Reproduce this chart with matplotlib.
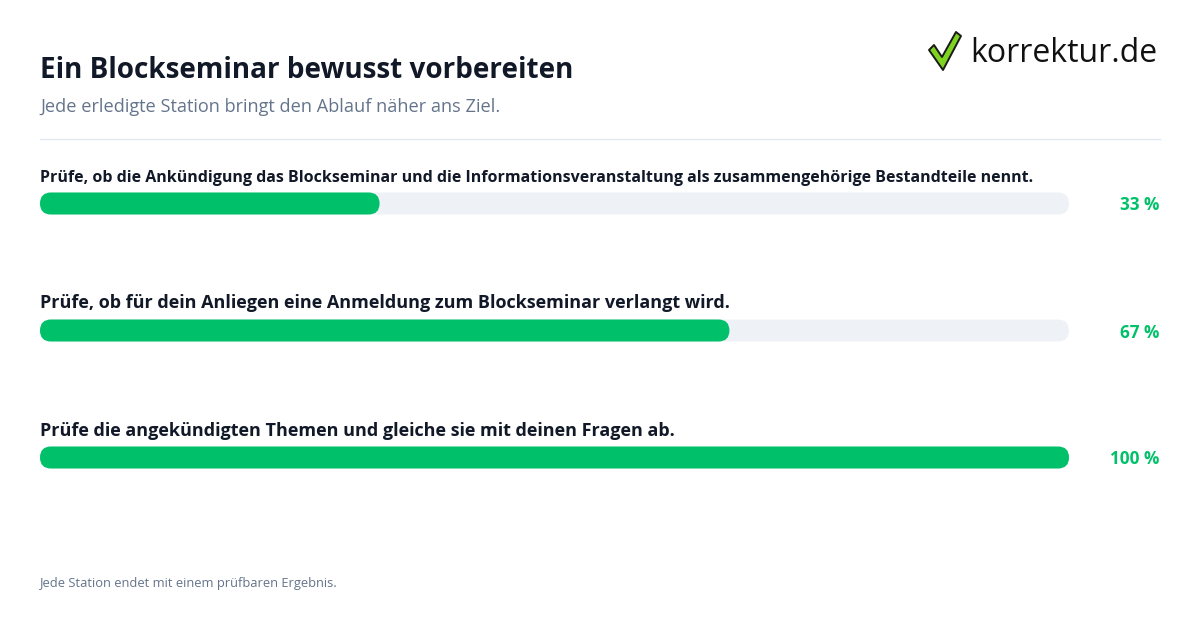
import matplotlib
matplotlib.use("Agg")
import matplotlib.pyplot as plt
import matplotlib.transforms as mtransforms
from matplotlib.patches import FancyBboxPatch, Polygon

plt.rcParams['font.family'] = ['Open Sans', 'Noto Sans', 'DejaVu Sans']

TITLE = "Ein Blockseminar bewusst vorbereiten"
SUBTITLE = "Jede erledigte Station bringt den Ablauf näher ans Ziel."
FOOTER = "Jede Station endet mit einem prüfbaren Ergebnis."
LOGO = "korrektur.de"

steps = [
    "Prüfe, ob die Ankündigung das Blockseminar und die Informationsveranstaltung als zusammengehörige Bestandteile nennt.",
    "Prüfe, ob für dein Anliegen eine Anmeldung zum Blockseminar verlangt wird.",
    "Prüfe die angekündigten Themen und gleiche sie mit deinen Fragen ab.",
]
progress = [33, 67, 100]

GREEN = "#00c16a"
TRACK = "#eef2f7"
DARK = "#111827"
SLATE = "#64748b"

W, H = 1200, 630
fig = plt.figure(figsize=(W / 100, H / 100), dpi=100)
fig.patch.set_facecolor("white")


def fx(px):
    return px / W


def fy(px):
    return 1 - px / H


# header
fig.text(fx(40), fy(70), TITLE, fontsize=20.1, fontweight="bold", color=DARK, va="center")
fig.text(fx(40), fy(107), SUBTITLE, fontsize=13.1, color=SLATE, va="center")
fig.add_artist(plt.Line2D([fx(40), fx(1160)], [fy(138.5), fy(138.5)], color="#e2e8f0", lw=1))
fig.text(fx(40), fy(583), FOOTER, fontsize=9.3, color=SLATE, va="center")

# logo
check = [(929, 50), (934, 45), (942, 57), (956, 32), (961, 36), (943, 70)]
fig.add_artist(Polygon([(fx(x), fy(y)) for x, y in check], closed=True,
                       transform=fig.transFigure, fc="#7ed321", ec="#1a1a1a", lw=1.4,
                       joinstyle="round"))
fig.text(fx(1157), fy(54), LOGO, fontsize=23, color="#111111", ha="right", va="center")

# bars: axes spans the track, x in percent, one row unit per step
left_px, right_px = 40, 1069
top_px, row_px = 140, 127
n = len(steps)
ax = fig.add_axes([fx(left_px), fy(top_px + row_px * n), (right_px - left_px) / W, row_px * n / H])
ax.set_xlim(0, 100)
ax.set_ylim(n, 0)
ax.axis("off")

px_per_x = (right_px - left_px) / 100
aspect = px_per_x / row_px
bar_h = 22 / row_px
rad = 11 / px_per_x
right_tr = mtransforms.blended_transform_factory(fig.transFigure, ax.transData)
label_sizes = [11.5, 13.0, 13.0]  # long first label is set smaller to fit
label_gap = [25, 27, 27]

for i, (label, val) in enumerate(zip(steps, progress)):
    yc = i + 0.5
    ax.add_patch(FancyBboxPatch((0, yc - bar_h / 2), 100, bar_h,
                                boxstyle=f"round,pad=0,rounding_size={rad}",
                                mutation_aspect=aspect, fc=TRACK, ec="none"))
    ax.add_patch(FancyBboxPatch((0, yc - bar_h / 2), val, bar_h,
                                boxstyle=f"round,pad=0,rounding_size={rad}",
                                mutation_aspect=aspect, fc=GREEN, ec="none"))
    ax.text(0, yc - label_gap[i] / row_px, label, fontsize=label_sizes[i], fontweight="bold",
            color=DARK, va="center", ha="left")
    ax.text(fx(1159), yc + 2 / row_px, f"{val} %", transform=right_tr, fontsize=12.3,
            fontweight="bold", color=GREEN, ha="right", va="center")

fig.savefig("out.png", dpi=100, facecolor="white")
